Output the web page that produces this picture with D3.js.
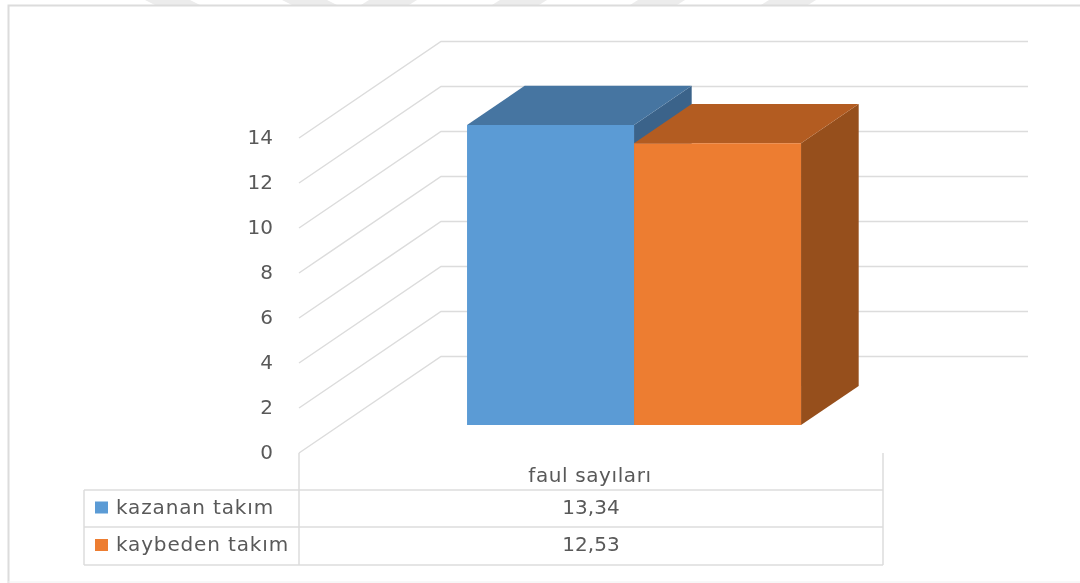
<!DOCTYPE html>
<html><head><meta charset="utf-8">
<script src="https://cdn.jsdelivr.net/npm/d3@7/dist/d3.min.js"></script>
<style>html,body{margin:0;padding:0;background:#fff}svg{display:block;filter:blur(0.45px)}text{font-family:"DejaVu Sans",sans-serif;fill:#595959}</style>
</head><body><svg id="c" width="1080" height="583"></svg>
<script>
const categories = ["faul sayıları"];
const seriesNames = ["kazanan takım", "kaybeden takım"];
const seriesValues = [13.34, 12.53];
const valueLabels = ["13,34", "12,53"];
const ticks = [0, 2, 4, 6, 8, 10, 12, 14];
const seriesColors = ["#5b9bd5", "#ed7d31"];
const topColors = ["#4675a1", "#b35c21"];
const sideColors = ["#3b638a", "#964f1c"];

const svg = d3.select("#c");
const y = d3.scaleLinear().domain([0, 14]).range([453, 138]);
const x = d3.scaleLinear().domain([0, 2]).range([426, 760]);
const depthX = d3.scaleLinear().domain([0, 1]).range([0, 142]);
const depthY = d3.scaleLinear().domain([0, 1]).range([0, -96.5]);
const zFront = 0.289, zBack = 0.695;
const pt = (a, v, z) => [x(a) + depthX(z), y(v) + depthY(z)];
const poly = pts => "M" + pts.map(p => p.join(",")).join("L") + "Z";
const grid = "#dcdcdc";

// frame and faint top decoration
svg.append("g").selectAll("path").data([[145,190,10],[282,327,10],[369,417,-8],[500,547,-8],[638,685,-8],[769,816,-8]])
  .join("path").attr("d", d => `M${d[0]},0L${d[1]},0L${d[1]+d[2]},5L${d[0]+d[2]},5Z`).attr("fill", "#ececec");
svg.append("path").attr("d", "M1080,5.5H8.5V583").attr("fill", "none").attr("stroke", "#dcdcdc").attr("stroke-width", 2);
svg.append("path").attr("d", "M8,582H1080").attr("stroke", "#f0f0f0").attr("stroke-width", 1);

// gridlines
const g = svg.append("g").attr("fill", "none").attr("stroke", grid).attr("stroke-width", 1.5);
g.selectAll("path").data(ticks).join("path")
  .attr("d", t => d3.line()([[299, y(t)], [299 + depthX(1), y(t) + depthY(1)], [1028, y(t) + depthY(1)]]));

// axis labels
svg.append("g").selectAll("text").data(ticks).join("text")
  .attr("x", 273).attr("y", t => y(t) + 6).attr("text-anchor", "end")
  .attr("font-size", 20).text(d => d);

// 3D bars, painted back to front
const bars = svg.append("g");
seriesValues.forEach((v, i) => {
  const a = i, b = i + 1;
  const s = bars.append("g");
  s.append("path").attr("fill", sideColors[i]).attr("d", poly([pt(b, v, zFront), pt(b, v, zBack), pt(b, 0, zBack), pt(b, 0, zFront)]));
  s.append("path").attr("fill", topColors[i]).attr("d", poly([pt(a, v, zFront), pt(a, v, zBack), pt(b, v, zBack), pt(b, v, zFront)]));
  s.append("path").attr("fill", seriesColors[i]).attr("d", poly([pt(a, v, zFront), pt(b, v, zFront), pt(b, 0, zFront), pt(a, 0, zFront)]));
});

// data table
const rows = [490, 527, 565];
const t = svg.append("g").attr("stroke", grid).attr("stroke-width", 1.5).attr("fill", "none");
rows.forEach(r => t.append("line").attr("x1", 84).attr("x2", 883).attr("y1", r).attr("y2", r));
t.append("line").attr("x1", 84).attr("x2", 84).attr("y1", rows[0]).attr("y2", rows[2]);
t.append("line").attr("x1", 299).attr("x2", 299).attr("y1", 453).attr("y2", rows[2]);
t.append("line").attr("x1", 883).attr("x2", 883).attr("y1", 453).attr("y2", rows[2]);

svg.append("text").attr("x", 590).attr("y", 482).attr("text-anchor", "middle").attr("font-size", 20).attr("letter-spacing", 0.6).text(categories[0]);
seriesNames.forEach((n, i) => {
  const cy = (rows[i] + rows[i + 1]) / 2;
  svg.append("rect").attr("x", 95).attr("y", cy - 7).attr("width", 13).attr("height", 12).attr("fill", seriesColors[i]);
  svg.append("text").attr("x", 116).attr("y", cy + 5).attr("font-size", 20).attr("letter-spacing", 0.85).text(n);
  svg.append("text").attr("x", 591).attr("y", cy + 5).attr("text-anchor", "middle").attr("font-size", 20).text(valueLabels[i]);
});
</script></body></html>
